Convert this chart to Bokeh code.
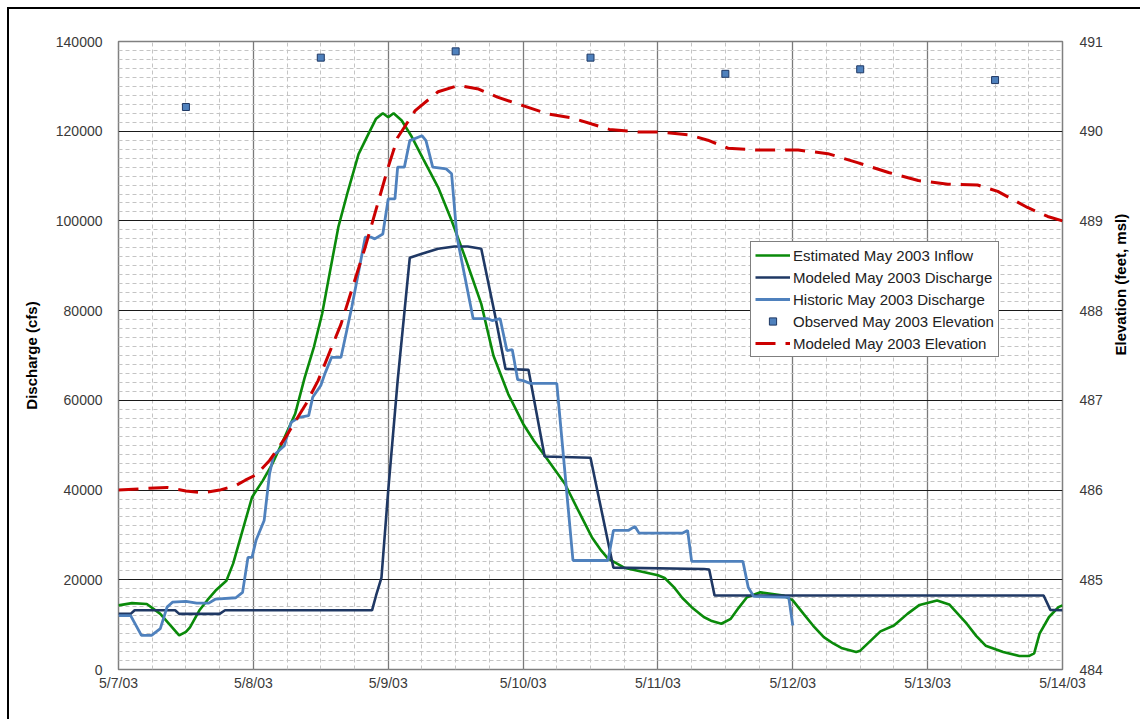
import math
from bokeh.plotting import figure
from bokeh.models import (Range1d, LinearAxis, SingleIntervalTicker, Legend, LegendItem,
                          NumeralTickFormatter)
from bokeh.embed import file_html
from bokeh.resources import INLINE

# ---------------- data (x = days after 5/7/03 00:00) ----------------
date_labels = ["5/7/03", "5/8/03", "5/9/03", "5/10/03", "5/11/03", "5/12/03", "5/13/03", "5/14/03"]

inflow_day = [0.00, 0.10, 0.21, 0.31, 0.38, 0.45, 0.50, 0.53, 0.60, 0.66, 0.72, 0.80, 0.85, 0.92,
              0.99, 1.07, 1.14, 1.21, 1.31, 1.38, 1.45, 1.51, 1.57, 1.63, 1.70, 1.78, 1.86, 1.91,
              1.96, 2.00, 2.04, 2.10, 2.17, 2.26, 2.37, 2.47, 2.57, 2.69, 2.78, 2.89, 3.00, 3.08,
              3.16, 3.31, 3.41, 3.51, 3.58, 3.63, 3.75, 3.90, 4.00, 4.05, 4.12, 4.18, 4.25, 4.34,
              4.40, 4.47, 4.54, 4.60, 4.66, 4.76, 4.93, 5.00, 5.08, 5.15, 5.23, 5.30, 5.36, 5.47,
              5.50, 5.58, 5.65, 5.75, 5.85, 5.94, 6.07, 6.16, 6.29, 6.36, 6.43, 6.56, 6.68, 6.75,
              6.79, 6.83, 6.90, 6.97, 7.00]
inflow_cfs = [14300, 14800, 14600, 12400, 10000, 7600, 8400, 9400, 13200, 15500, 17600, 19800, 23600, 31000,
              38400, 42100, 45800, 50300, 57000, 65000, 72000, 79300, 89000, 98600, 106500, 114900, 119800, 122800,
              124000, 123100, 124000, 122400, 119000, 113800, 107500, 100100, 91900, 81500, 70000, 61400, 54800, 51000,
              47700, 41400, 35400, 29500, 26500, 24700, 22700, 21700, 21000, 20400, 18300, 16000, 13900, 11700,
              10800, 10200, 11300, 13800, 16100, 17200, 16500, 15400, 12400, 9800, 7200, 5800, 4800, 3900,
              4200, 6500, 8500, 9800, 12400, 14400, 15400, 14500, 10200, 7500, 5300, 3900, 3000, 3000,
              3600, 8000, 11700, 13900, 14300]

modeled_q_day = [0.00, 0.09, 0.12, 0.42, 0.45, 0.75, 0.79, 1.88, 1.91, 1.95, 2.00, 2.07, 2.16, 2.25,
                 2.37, 2.49, 2.59, 2.69, 2.79, 2.87, 3.04, 3.16, 3.50, 3.67, 4.34, 4.38, 4.42, 6.86,
                 6.91, 7.00]
modeled_q_cfs = [12400, 12400, 13200, 13200, 12400, 12400, 13200, 13200, 16500, 20500, 39900, 64400, 91800, 92700,
                 93800, 94300, 94300, 93800, 79300, 67000, 66800, 47500, 47200, 22700, 22400, 22300, 16500, 16500,
                 13300, 13200]

historic_q_day = [0.00, 0.09, 0.17, 0.245, 0.31, 0.36, 0.40, 0.50, 0.58, 0.67, 0.72, 0.87, 0.92, 0.96,
                  0.99, 1.02, 1.08, 1.12, 1.15, 1.23, 1.28, 1.34, 1.41, 1.44, 1.50, 1.53, 1.58, 1.65,
                  1.73, 1.83, 1.87, 1.90, 1.96, 2.00, 2.05, 2.07, 2.12, 2.16, 2.25, 2.28, 2.33, 2.43,
                  2.47, 2.51, 2.63, 2.74, 2.77, 2.83, 2.88, 2.92, 2.96, 3.00, 3.05, 3.25, 3.37, 3.63,
                  3.67, 3.78, 3.83, 3.86, 4.18, 4.22, 4.25, 4.63, 4.67, 4.71, 4.97, 5.00]
historic_q_cfs = [12000, 12000, 7600, 7600, 9100, 13900, 15000, 15200, 14800, 14800, 15700, 16000, 17200, 25000,
                  25000, 28800, 33200, 43600, 47700, 49900, 55100, 56200, 56600, 60700, 63300, 65900, 69600, 69600,
                  80800, 96400, 96400, 96000, 97100, 104900, 104900, 112000, 112000, 117900, 119000, 117900, 112000, 111600,
                  110500, 96400, 78200, 78200, 77800, 78200, 71100, 71300, 64600, 64400, 63800, 63800, 24300, 24300,
                  31000, 31000, 31900, 30400, 30400, 31000, 24100, 24100, 18300, 16300, 16100, 9800]

observed_elev_day = [0.5, 1.5, 2.5, 3.5, 4.5, 5.5, 6.5]
observed_elev_ft = [490.27, 490.82, 490.89, 490.82, 490.64, 490.69, 490.57]

modeled_elev_day = [0.00, 0.11, 0.36, 0.50, 0.63, 0.75, 0.87, 0.94, 1.02, 1.12, 1.24, 1.39, 1.48, 1.65,
                    1.83, 2.00, 2.07, 2.20, 2.37, 2.52, 2.67, 2.81, 3.01, 3.19, 3.36, 3.51, 3.64, 3.86,
                    4.01, 4.23, 4.37, 4.52, 4.74, 5.04, 5.26, 5.48, 5.71, 5.93, 6.15, 6.37, 6.52, 6.74,
                    6.89, 7.00]
modeled_elev_ft = [486.00, 486.01, 486.03, 485.99, 485.97, 486.00, 486.05, 486.11, 486.17, 486.33, 486.59, 486.96, 487.22, 487.85,
                   488.71, 489.60, 489.93, 490.23, 490.44, 490.51, 490.47, 490.38, 490.28, 490.19, 490.15, 490.08, 490.02, 489.99,
                   489.99, 489.96, 489.90, 489.81, 489.79, 489.79, 489.75, 489.65, 489.54, 489.45, 489.41, 489.40, 489.33, 489.15,
                   489.05, 489.00]

# ---------------- figure ----------------
FONT = "Liberation Sans"
p = figure(width=1140, height=719, x_range=Range1d(0, 7), y_range=Range1d(0, 140000),
           output_backend="svg", toolbar_location=None,
           min_border_left=118, min_border_right=74, min_border_top=41, min_border_bottom=50,
           background_fill_color="white", border_fill_color=None)
# thin black page frame (top and left edge) drawn behind the transparent border area
p.styles = {
    "background": ("linear-gradient(#000,#000) 7px 7px / 100% 2px no-repeat, "
                   "linear-gradient(#000,#000) 7px 7px / 2px 100% no-repeat, white"),
}
p.xaxis.visible = False
p.yaxis.visible = False
p.outline_line_color = "#808080"
p.outline_line_width = 1.5

p.extra_y_ranges = {"elev": Range1d(484, 491)}

xticker = SingleIntervalTicker(interval=1, num_minor_ticks=4)
yticker = SingleIntervalTicker(interval=20000, num_minor_ticks=10)
eticker = SingleIntervalTicker(interval=1)

def style_axis(ax):
    ax.axis_line_color = None
    ax.major_tick_line_color = None
    ax.minor_tick_line_color = None
    ax.major_tick_in = 0
    ax.major_tick_out = 0
    ax.major_label_text_font = FONT
    ax.major_label_text_font_size = "14px"
    ax.major_label_text_color = "#3a3a3a"
    ax.axis_label_text_font = FONT
    ax.axis_label_text_font_size = "15px"
    ax.axis_label_text_font_style = "bold"
    ax.axis_label_text_color = "black"

xaxis = LinearAxis(ticker=xticker)
xaxis.major_label_overrides = {i: lab for i, lab in enumerate(date_labels)}
style_axis(xaxis)
xaxis.major_label_standoff = 1
p.add_layout(xaxis, "below")

yaxis = LinearAxis(ticker=yticker, formatter=NumeralTickFormatter(format="0"),
                   axis_label="Discharge (cfs)")
style_axis(yaxis)
yaxis.major_label_standoff = 12
yaxis.axis_label_standoff = 13
p.add_layout(yaxis, "left")

eaxis = LinearAxis(y_range_name="elev", ticker=eticker, formatter=NumeralTickFormatter(format="0"),
                   axis_label="Elevation (feet, msl)")
style_axis(eaxis)
eaxis.major_label_standoff = 13
eaxis.axis_label_standoff = 15
eaxis.axis_label_orientation = math.pi / 2
p.add_layout(eaxis, "right")

p.xgrid.ticker = xticker
p.ygrid.ticker = yticker
p.xgrid.grid_line_color = "#7a7a7a"
p.xgrid.grid_line_width = 1.3
p.ygrid.grid_line_color = "#1a1a1a"
p.ygrid.grid_line_width = 1
for g in (p.xgrid, p.ygrid):
    g.minor_grid_line_color = "#c4c4c4"
    g.minor_grid_line_dash = "4 3"
    g.minor_grid_line_width = 1

# ---------------- series ----------------
r_in = p.line(inflow_day, inflow_cfs, line_color="#0a8a0a", line_width=2.6)
r_mq = p.line(modeled_q_day, modeled_q_cfs, line_color="#1f3864", line_width=2.6)
r_hq = p.line(historic_q_day, historic_q_cfs, line_color="#4f81bd", line_width=2.8)
r_obs = p.scatter(observed_elev_day, observed_elev_ft, y_range_name="elev", marker="square",
                  size=7, fill_color="#4f81bd", line_color="#1f3864", line_width=1)
r_me = p.line(modeled_elev_day, modeled_elev_ft, y_range_name="elev", line_color="#cc0000",
              line_width=3, line_dash="20 10")

legend = Legend(items=[
    LegendItem(label="Estimated May 2003 Inflow", renderers=[r_in]),
    LegendItem(label="Modeled May 2003 Discharge", renderers=[r_mq]),
    LegendItem(label="Historic May 2003 Discharge", renderers=[r_hq]),
    LegendItem(label="Observed May 2003 Elevation", renderers=[r_obs]),
    LegendItem(label="Modeled May 2003 Elevation", renderers=[r_me]),
], location=(632, 312))
legend.label_text_font = FONT
legend.label_text_font_size = "15px"
legend.label_text_color = "#222222"
legend.glyph_width = 35
legend.glyph_height = 18
legend.label_height = 18
legend.spacing = 4
legend.padding = 4
legend.margin = 0
legend.label_standoff = 3
legend.border_line_color = "black"
legend.border_line_width = 1
legend.background_fill_alpha = 1
p.add_layout(legend)

open("out.html", "w").write(file_html(p, INLINE))
